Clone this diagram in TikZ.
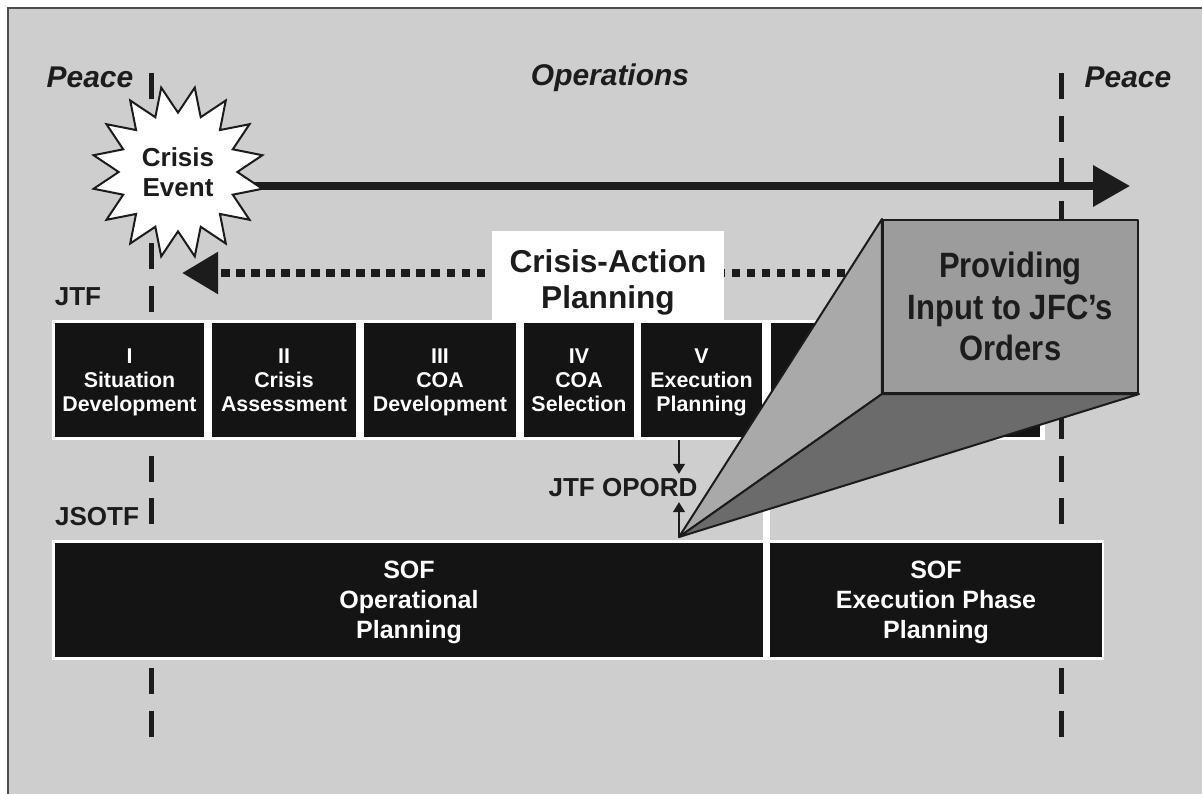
\documentclass[tikz,border=0pt]{standalone}
\usepackage{fontspec}
\setmainfont{Liberation Sans}
\newfontfamily\narrowsans{Liberation Sans}[FakeStretch=0.88]
\usetikzlibrary{arrows.meta, positioning, shapes.geometric}

\definecolor{bggray}{HTML}{CECECE}
\definecolor{boxblack}{HTML}{141414}
\definecolor{inkdark}{HTML}{1C1C1C}
\definecolor{facefront}{HTML}{9C9C9C}
\definecolor{faceleft}{HTML}{A9A9A9}
\definecolor{facebottom}{HTML}{6B6B6B}

\begin{document}
\begin{tikzpicture}[
  x=0.025cm, y=-0.025cm,
  phase/.style={fill=boxblack, text=white, font=\bfseries\fontsize{15.2}{17}\selectfont, align=center, minimum height=2.85cm, inner sep=0pt, text depth=-0.12cm},
  sofbox/.style={fill=boxblack, text=white, font=\bfseries\fontsize{17.8}{21.3}\selectfont, align=center, minimum height=2.85cm, inner sep=0pt, text depth=-0.08cm},
  rowframe/.style={fill=white, minimum height=3cm, inner sep=0pt},
  era/.style={font=\bfseries\itshape\fontsize{21.3}{25}\selectfont, text=inkdark},
  lane/.style={font=\bfseries\fontsize{18.5}{22}\selectfont, text=inkdark},
  timeline/.style={draw=inkdark, line width=0.125cm, dash pattern=on 0.65cm off 0.4125cm},
  bigarrow/.style={draw=inkdark, line width=0.175cm, -{Triangle[length=0.925cm, width=1cm]}},
  dotarrow/.style={draw=inkdark, line width=0.21cm, dash pattern=on 0.21cm off 0.165cm, -{Triangle[length=0.9cm, width=1cm]}},
  smallarrow/.style={draw=inkdark, line width=0.04cm, -{Triangle[length=0.25cm, width=0.3cm]}},
  face/.style={draw=inkdark, line width=0.05cm, line join=round},
]
\useasboundingbox (0,0) rectangle (1202,794);
\clip (0,0) rectangle (1202,794);
\fill[white] (0,0) rectangle (1202,794);
\draw[fill=bggray, draw=black!70, line width=0.07cm] (8,8) rectangle (1240,830);

% era headings
\node[era] (peaceL) at (90,77) {Peace};
\node[era] (ops) at (610,78) {Operations};
\node[era] (peaceR) at (1128,77) {Peace};

% peace / operations boundaries
\coordinate (bndLtop) at (151,73);
\coordinate (bndLbot) at (151,740);
\coordinate (bndRtop) at (1061,73);
\coordinate (bndRbot) at (1061,740);
\draw[timeline] (bndLtop) -- (bndLbot);
\draw[timeline] (bndRtop) -- (bndRbot);

% operations arrow from the crisis event
\coordinate (crisisC) at (178,172);
\coordinate (opsEnd) at (1130,186);
\draw[bigarrow] (crisisC |- opsEnd) -- (opsEnd);
\node[star, star points=16, star point ratio=1.45, shape border rotate=11.25,
  minimum size=4.3cm, inner sep=0pt, fill=white, draw=inkdark, line width=0.05cm,
  align=center, text=inkdark, font=\bfseries\fontsize{18.5}{21.3}\selectfont] (crisis) at (crisisC) {Crisis\\Event};

% crisis-action planning
\coordinate (capStart) at (860,273);
\coordinate (capEnd) at (182,273);
\draw[dotarrow] (capStart) -- (capEnd);
\node[fill=white, minimum width=5.8cm, minimum height=2.225cm, inner sep=0pt] (cap) at (608,275.5) {};
\node[align=center, inner sep=0pt, text=inkdark, font=\bfseries\fontsize{22.5}{25.6}\selectfont] (captext) at (608,282) {Crisis-Action\\Planning};

% JTF row
\node[lane] (jtf) at (78,297) {JTF};
\node[rowframe, minimum width=24.825cm] (jtfrow) at (548.5,380) {};
\node[phase, minimum width=3.725cm] (p1) at (129.5,380) {I\\Situation\\Development};
\node[phase, minimum width=3.6cm] (p2) at (284,380) {II\\Crisis\\Assessment};
\node[phase, minimum width=3.8cm] (p3) at (440,380) {III\\COA\\Development};
\node[phase, minimum width=2.75cm] (p4) at (579,380) {IV\\COA\\Selection};
\node[phase, minimum width=3.025cm] (p5) at (701.5,380) {V\\Execution\\Planning};
\node[phase, minimum width=6.725cm] (p6) at (905.5,380) {};

% JSOTF row
\node[lane] (jsotf) at (97,517) {JSOTF};
\node[rowframe, minimum width=26.3cm] (sofrow) at (578,600) {};
\node[sofbox, minimum width=17.7cm] (sof1) at (409,600) {SOF\\Operational\\Planning};
\node[sofbox, minimum width=8.3cm] (sof2) at (936,600) {SOF\\Execution Phase\\Planning};
\coordinate (gap) at (766.5,490);
\draw[white, line width=0.16cm] (gap |- jtfrow.south) -- (gap |- sofrow.north);

% order hand-off
\coordinate (apex) at (679,537);
\node[lane] (opord) at (623,488) {JTF OPORD};
\draw[smallarrow] (apex |- jtfrow.south) -- (apex |- opord.north);
\draw[smallarrow] (apex) -- (apex |- opord.south);

% callout
\node[face, fill=facefront, minimum width=6.375cm, minimum height=4.325cm, inner sep=0pt,
  align=center, text=inkdark, font=\narrowsans\bfseries\fontsize{25}{29.5}\selectfont] (jfc) at (1010.5,306.5) {Providing\\Input to JFC’s\\Orders};
\filldraw[face, fill=faceleft] (apex) -- (jfc.north west) -- (jfc.south west) -- cycle;
\filldraw[face, fill=facebottom] (apex) -- (jfc.south west) -- (jfc.south east) -- cycle;
\end{tikzpicture}
\end{document}
